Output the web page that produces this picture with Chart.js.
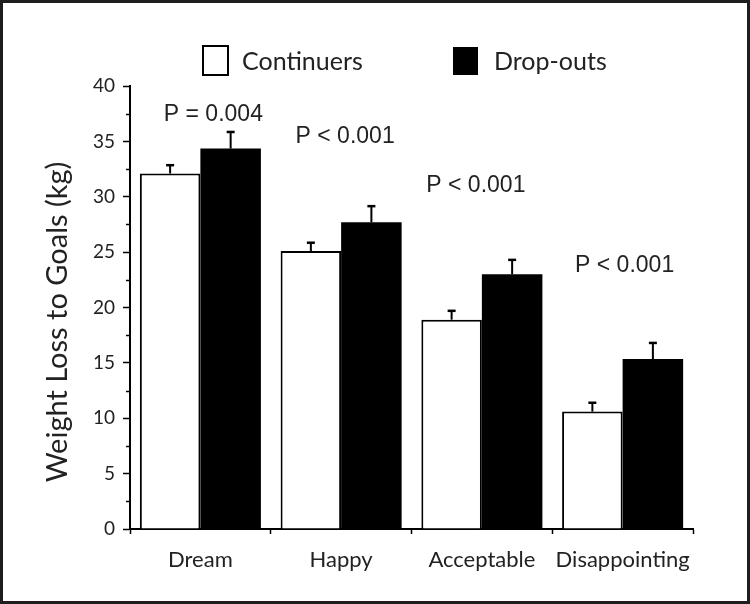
<!DOCTYPE html>
<html lang="en">
<head>
    <meta charset="UTF-8">
    <title>Weight Loss to Goals</title>
    <script src="https://cdn.jsdelivr.net/npm/chart.js"></script>
    <style>
        body {
            margin: 0;
            padding: 0;
            background: #ffffff;
        }

        .frame {
            width: 750px;
            height: 604px;
            box-sizing: border-box;
            border: 3px solid #1e1e1e;
            background: #ffffff;
        }

        canvas {
            display: block;
        }
    </style>
</head>
<body>

<div class="frame">
    <canvas id="goalsChart" width="744" height="598"></canvas>
</div>

<script>
    // data
    const categories = ['Dream', 'Happy', 'Acceptable', 'Disappointing'];
    const continuers = [32.1, 25.1, 18.9, 10.6];
    const continuersErr = [0.75, 0.75, 0.8, 0.8];
    const dropouts = [34.35, 27.7, 23.0, 15.35];
    const dropoutsErr = [1.5, 1.45, 1.3, 1.45];
    const pLabels = ['P = 0.004', 'P < 0.001', 'P < 0.001', 'P < 0.001'];
    const pLabelY = [37.4, 35.4, 31.0, 23.8];
    const yTicks = [0, 5, 10, 15, 20, 25, 30, 35, 40];
    const yTitle = 'Weight Loss to Goals (kg)';

    const textColor = '#222222';
    const sansFont = 'Lato, "Open Sans", sans-serif';

    // one-sided (upward) error bars
    const errorBars = {
        id: 'errorBars',
        afterDatasetsDraw(chart) {
            const ctx = chart.ctx;
            const y = chart.scales.y;
            const errs = [continuersErr, dropoutsErr];
            ctx.save();
            ctx.strokeStyle = '#000';
            chart.data.datasets.forEach((ds, i) => {
                const meta = chart.getDatasetMeta(i);
                meta.data.forEach((bar, j) => {
                    const top = y.getPixelForValue(ds.data[j] + errs[i][j]);
                    ctx.lineWidth = 2;
                    ctx.beginPath();
                    ctx.moveTo(bar.x, bar.y);
                    ctx.lineTo(bar.x, top);
                    ctx.stroke();
                    ctx.lineWidth = 2.5;
                    ctx.beginPath();
                    ctx.moveTo(bar.x - 4, top);
                    ctx.lineTo(bar.x + 4, top);
                    ctx.stroke();
                });
            });
            ctx.restore();
        }
    };

    // P value annotations above each group
    const pValues = {
        id: 'pValues',
        afterDraw(chart, args, opts) {
            const ctx = chart.ctx;
            const x = chart.scales.x;
            const y = chart.scales.y;
            ctx.save();
            ctx.font = '23px "Liberation Sans", Arial, sans-serif';
            ctx.fillStyle = textColor;
            ctx.textAlign = 'center';
            ctx.textBaseline = 'middle';
            pLabels.forEach((txt, i) => {
                ctx.fillText(txt, x.getPixelForValue(i) + opts.dx[i], y.getPixelForValue(pLabelY[i]));
            });
            ctx.restore();
        }
    };

    // minor ticks between the labelled ones on the y axis
    const minorTicks = {
        id: 'minorTicks',
        afterDraw(chart) {
            const ctx = chart.ctx;
            const y = chart.scales.y;
            const left = chart.chartArea.left;
            ctx.save();
            ctx.strokeStyle = '#000';
            ctx.lineWidth = 1.5;
            for (let i = 0; i < yTicks.length - 1; i++) {
                const py = Math.round(y.getPixelForValue((yTicks[i] + yTicks[i + 1]) / 2)) + 0.5;
                ctx.beginPath();
                ctx.moveTo(left - 4, py);
                ctx.lineTo(left, py);
                ctx.stroke();
            }
            ctx.restore();
        }
    };

    // legend and y title, placed like the figure
    const labelsLayer = {
        id: 'labelsLayer',
        afterDraw(chart) {
            const ctx = chart.ctx;
            ctx.save();
            ctx.lineWidth = 2;
            ctx.strokeStyle = '#000';
            ctx.fillStyle = '#fff';
            ctx.fillRect(200, 43, 25, 29);
            ctx.strokeRect(200, 43, 25, 29);
            ctx.fillStyle = '#000';
            ctx.fillRect(450, 44, 25, 28);
            ctx.font = '25px ' + sansFont;
            ctx.fillStyle = textColor;
            ctx.textBaseline = 'middle';
            ctx.fillText(chart.data.datasets[0].label, 239, 59);
            ctx.fillText(chart.data.datasets[1].label, 491, 59);

            // rotated axis title
            ctx.translate(64, 319);
            ctx.rotate(-Math.PI / 2);
            ctx.font = '29px ' + sansFont;
            ctx.textAlign = 'center';
            ctx.textBaseline = 'alphabetic';
            ctx.fillText(yTitle, 0, 0);
            ctx.restore();
        }
    };

    const ctx = document.getElementById('goalsChart').getContext('2d');
    new Chart(ctx, {
        type: 'bar',
        data: {
            labels: categories,
            datasets: [
                { label: 'Continuers', data: continuers, backgroundColor: '#ffffff', borderColor: '#000000', borderWidth: 2 },
                { label: 'Drop-outs', data: dropouts, backgroundColor: '#000000', borderColor: '#000000', borderWidth: 0 }
            ]
        },
        options: {
            responsive: false,
            animation: false,
            layout: {
                padding: { left: 0, right: 54, top: 83, bottom: 0 }
            },
            datasets: {
                bar: {
                    categoryPercentage: 0.86,
                    barPercentage: 1.0
                }
            },
            plugins: {
                legend: { display: false },
                tooltip: { enabled: false },
                pValues: { dx: [13, 4, -6, 2] }
            },
            scales: {
                x: {
                    grid: {
                        display: true,
                        drawOnChartArea: false,
                        tickLength: 5,
                        tickColor: '#000',
                        tickWidth: 1.5
                    },
                    border: { color: '#000', width: 2 },
                    ticks: {
                        color: textColor,
                        padding: 13,
                        font: { family: sansFont, size: 22 }
                    },
                    afterFit(scale) { scale.height = 72; }
                },
                y: {
                    min: 0,
                    max: 40,
                    grid: {
                        display: true,
                        drawOnChartArea: false,
                        tickLength: 7,
                        tickColor: '#000',
                        tickWidth: 1.5
                    },
                    border: { color: '#000', width: 2 },
                    afterBuildTicks(scale) {
                        scale.ticks = yTicks.map(v => ({ value: v }));
                    },
                    ticks: {
                        color: textColor,
                        padding: 8,
                        font: { family: sansFont, size: 19 }
                    },
                    afterFit(scale) { scale.width = 127; }
                }
            }
        },
        plugins: [errorBars, pValues, minorTicks, labelsLayer]
    });
</script>
</body>
</html>
